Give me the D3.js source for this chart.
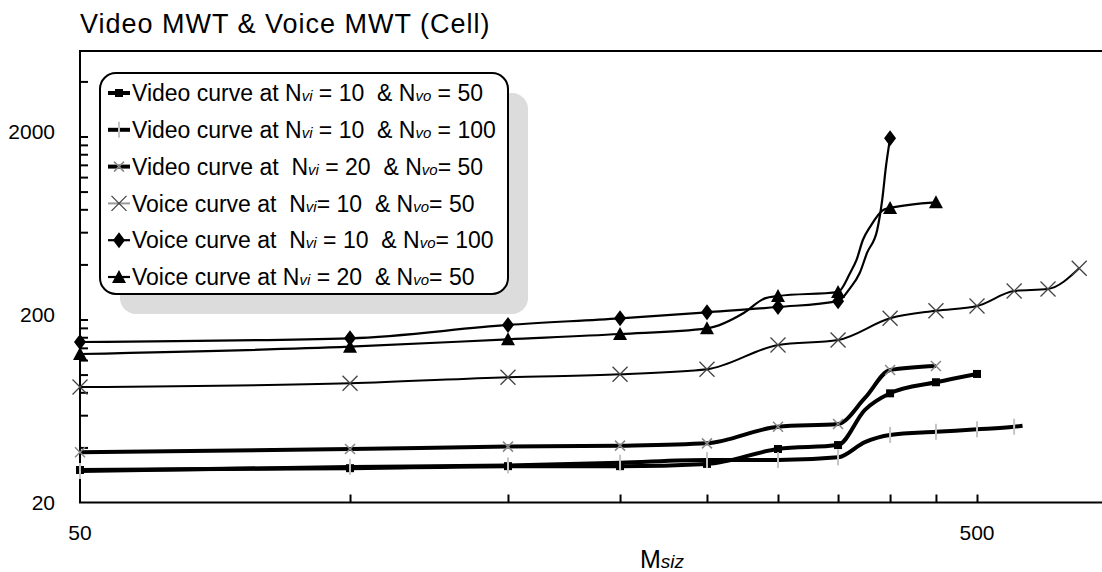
<!DOCTYPE html>
<html>
<head>
<meta charset="utf-8">
<script src="https://cdn.jsdelivr.net/npm/d3@7"></script>
<style>
	body{margin:0;background:#fff;}
	svg text{font-family:"Liberation Sans", Arial, sans-serif;fill:#000;}
</style>
</head>
<body>
<div id="chart"></div>
<script>

// axis ticks and labels
const msizTicks = [100,150,200,250,300,350,400,450,500];
const msizLabels = [50,500];
const mwtTicks = [40,60,80,100,120,140,160,180,200,400,600,800,1000,1200,1400,1600,1800,2000,4000];
const mwtLabels = [20,200,2000];
// markers are drawn only on the measured M siz values
const markX = [50,100,150,200,250,300,350,400,450,500,550,600,650];

// Video curve at Nvi = 10 & Nvo = 50
const videoA_x = [50,100,150,200,250,300,350,375,400,450,500];
const videoA_y = [30.1,30.8,31.6,31.6,32.5,39.2,41.2,64.1,79.0,90.8,100.8];

// Video curve at Nvi = 10 & Nvo = 100
const videoB_x = [50,100,150,200,250,300,350,375,400,450,500,550,562];
const videoB_y = [29.7,31.3,31.9,33.0,34.1,34.1,35.3,42.8,46.8,48.7,50.2,51.9,52.6];

// Video curve at Nvi = 20 & Nvo = 50
const videoC_x = [50,100,150,200,250,300,350,375,400,450];
const videoC_y = [37.6,39.2,40.4,40.9,42.1,51.9,53.7,74.5,105.9,111.4];

// Voice curve at Nvi = 10 & Nvo = 50
const voiceA_x = [50,100,150,200,250,300,350,400,450,500,550,600,650];
const voiceA_y = [85.5,89.6,96.7,100.4,106.9,145.1,154.5,203,223.4,237,286,293.6,381];

// Voice curve at Nvi = 10 & Nvo = 100
const voiceB_x = [50,100,150,200,250,300,350,361,370,377,387,392,396,400];
const voiceB_y = [150.7,157.9,186.7,203,219,234,252,297,359,462,617,900,1398,1955];

// Voice curve at Nvi = 20 & Nvo = 50
const voiceC_x = [50,100,150,200,250,275,290,300,350,361,367,373,380,393,400,450];
const voiceC_y = [129.6,142,155.9,166.6,179,217.8,261,268.8,282.7,359,423,544,641,793,813,874];

const legendText = [
	["Video curve at N","vi"," = 10  & N","vo"," = 50"],
	["Video curve at N","vi"," = 10  & N","vo"," = 100"],
	["Video curve at  N","vi"," = 20  & N","vo","= 50"],
	["Voice curve at  N","vi","= 10  & N","vo","= 50"],
	["Voice curve at  N","vi"," = 10  & N","vo","= 100"],
	["Voice curve at N","vi"," = 20  & N","vo","= 50"]
];

function graph(){

	//sizing
	const width = 1102, height = 572;
	const margin = {top:51, left:80, bottom:70};

	const svg = d3.select("#chart")
		.append("svg")
		.attr("width", width)
		.attr("height", height);

	//scales (log / log)
	const xScale = d3.scaleLog()
		.domain([50,700])
		.range([margin.left, margin.left + 897*Math.log10(14)]);

	const yScale = d3.scaleLog()
		.domain([20, 20*Math.pow(10, 451.5/183)])
		.range([height-margin.bottom+0.5, margin.top]);

	//title
	svg.append("text")
		.attr("x", 80)
		.attr("y", 33)
		.style("font-size","27px")
		.style("letter-spacing","1px")
		.text("Video MWT & Voice MWT (Cell)");

	//frame
	svg.append("path")
		.attr("d", `M${width+10},${margin.top}H${margin.left}V${yScale(20)}H${width+10}`)
		.attr("fill","none")
		.attr("stroke","#000")
		.attr("stroke-width",2);

	//y ticks (inside)
	const yAxis = d3.axisRight(yScale)
		.tickValues(mwtTicks)
		.tickSize(8)
		.tickFormat("");
	svg.append("g")
		.attr("class","axis y_axis")
		.attr("transform",`translate(${margin.left},0)`)
		.call(yAxis)
		.call(g => g.select(".domain").remove())
		.selectAll("line").attr("stroke","#000").attr("stroke-width",2);

	svg.selectAll(".ylab")
		.data(mwtLabels)
		.enter()
		.append("text")
		.attr("class","ylab")
		.attr("x", 55)
		.attr("y", d => yScale(d) - (d > 20 ? 5 : 0))
		.attr("dy","0.35em")
		.attr("text-anchor","end")
		.style("font-size","21px")
		.text(d => d);

	//x ticks (inside)
	const xAxis = d3.axisTop(xScale)
		.tickValues(msizTicks)
		.tickSize(8)
		.tickFormat("");
	svg.append("g")
		.attr("class","axis x_axis")
		.attr("transform",`translate(0,${yScale(20)})`)
		.call(xAxis)
		.call(g => g.select(".domain").remove())
		.selectAll("line").attr("stroke","#000").attr("stroke-width",2);

	svg.selectAll(".xlab")
		.data(msizLabels)
		.enter()
		.append("text")
		.attr("class","xlab")
		.attr("x", d => xScale(d))
		.attr("y", 533)
		.attr("dy","0.35em")
		.attr("text-anchor","middle")
		.style("font-size","21px")
		.text(d => d);

	//x axis title
	const xt = svg.append("text")
		.attr("x", 640)
		.attr("y", 568)
		.style("font-size","25px");
	xt.append("tspan").text("M");
	xt.append("tspan").style("font-style","italic").style("font-size","19px").text("siz");

	//series
	const series = [
		{xs:videoA_x, ys:videoA_y, w:4, mark:"square"},
		{xs:videoB_x, ys:videoB_y, w:4, mark:"vtick"},
		{xs:videoC_x, ys:videoC_y, w:4, mark:"xsmall"},
		{xs:voiceA_x, ys:voiceA_y, w:2, mark:"xlarge"},
		{xs:voiceB_x, ys:voiceB_y, w:2.2, mark:"diamond"},
		{xs:voiceC_x, ys:voiceC_y, w:2.2, mark:"triangle"}
	];

	const line = d3.line()
		.x(d => xScale(d[0]))
		.y(d => yScale(d[1]))
		.curve(d3.curveMonotoneX);

	//marker drawing
	function drawMark(g, type, cx, cy){
		if(type === "square"){
			g.append("rect").attr("x",cx-4).attr("y",cy-4).attr("width",8).attr("height",8).attr("fill","#000");
		} else if(type === "vtick"){
			g.append("line").attr("x1",cx).attr("x2",cx).attr("y1",cy-8).attr("y2",cy+8)
				.attr("stroke","#c4c4c4").attr("stroke-width",2);
		} else if(type === "xsmall" || type === "xlarge"){
			const r = type === "xsmall" ? 5 : 7.5;
			g.append("path").attr("d",`M${cx-r},${cy-r}L${cx+r},${cy+r}M${cx-r},${cy+r}L${cx+r},${cy-r}`)
				.attr("stroke", type === "xsmall" ? "#888" : "#444")
				.attr("stroke-width", type === "xsmall" ? 1.5 : 1.3)
				.attr("fill","none");
		} else if(type === "diamond"){
			g.append("path").attr("d",`M${cx},${cy-8}L${cx+6},${cy}L${cx},${cy+8}L${cx-6},${cy}Z`).attr("fill","#000");
		} else if(type === "triangle"){
			g.append("path").attr("d",`M${cx},${cy-7}L${cx+7},${cy+6}L${cx-7},${cy+6}Z`).attr("fill","#000");
		}
	}

	const lines = svg.append("g");
	const marks = svg.append("g");

	series.forEach(s => {
		const pts = s.xs.map((x,i) => [x, s.ys[i]]);
		lines.append("path")
			.datum(pts)
			.attr("class","line")
			.attr("fill","none")
			.attr("stroke","#000")
			.attr("stroke-width", s.w)
			.attr("stroke-linejoin","round")
			.attr("d", line);
		pts.filter(p => markX.includes(p[0]))
			.forEach(p => drawMark(marks, s.mark, xScale(p[0]), yScale(p[1])));
	});

	//Legend
	const lgX = 100, lgY = 73, lgW = 408, lgH = 221;
	const legend = svg.append("g").attr("class","legend");

	legend.append("rect")
		.attr("x", lgX+20).attr("y", lgY+20)
		.attr("width", lgW).attr("height", lgH)
		.attr("rx", 16)
		.attr("fill", "#dcdcdc");

	legend.append("rect")
		.attr("x", lgX).attr("y", lgY)
		.attr("width", lgW).attr("height", lgH)
		.attr("rx", 16)
		.attr("fill", "#fff")
		.attr("stroke", "#000")
		.attr("stroke-width", 2);

	legendText.forEach((parts,i) => {
		const ry = 93 + i*36.8;
		const s = series[i];
		legend.append("line")
			.attr("x1", 108).attr("x2", 130)
			.attr("y1", ry).attr("y2", ry)
			.attr("stroke", i === 3 ? "#999" : "#000")
			.attr("stroke-width", s.w);
		drawMark(legend, s.mark, 119, ry);

		const t = legend.append("text")
			.attr("x", 132)
			.attr("y", ry)
			.attr("dy","0.36em")
			.style("font-size","23px")
			.style("white-space","pre");
		parts.forEach((p,j) => {
			const ts = t.append("tspan").text(p);
			if(j % 2 === 1) ts.style("font-size","15px").style("font-style","italic");
		});
	});

}

graph();
</script>
</body>
</html>
